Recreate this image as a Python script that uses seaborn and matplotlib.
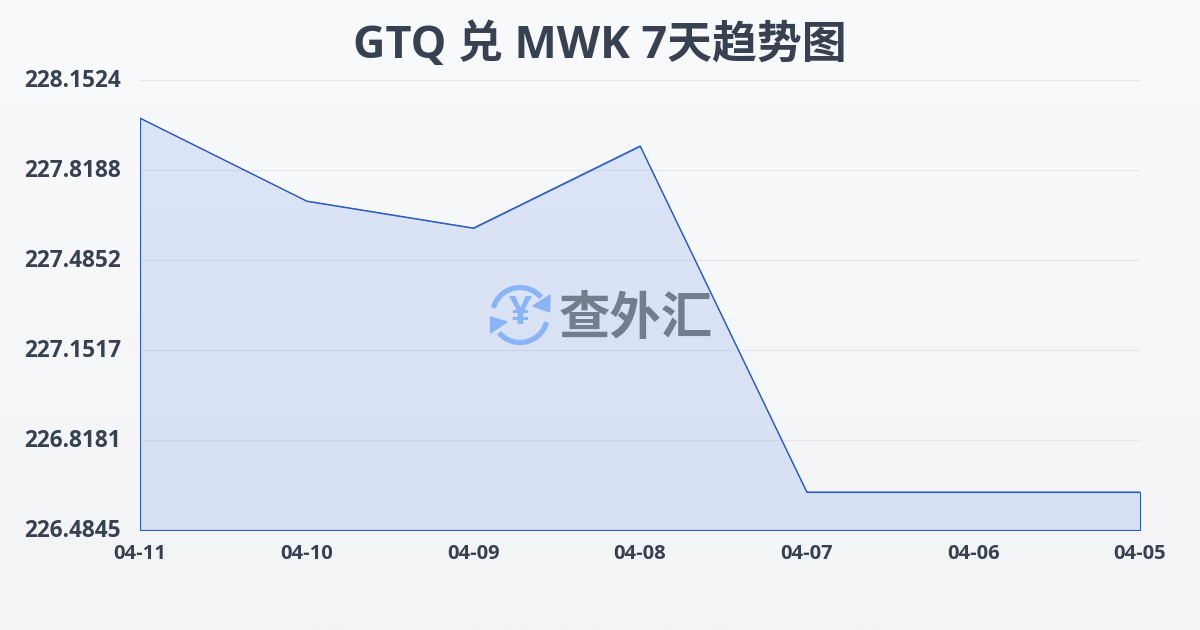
import numpy as np
import pandas as pd
import matplotlib.pyplot as plt
from matplotlib.patches import Arc, Polygon
from matplotlib.transforms import ScaledTranslation
import seaborn as sns

sns.set_style("white")
plt.rcParams['font.family'] = ['Open Sans', 'Noto Sans CJK SC', 'DejaVu Sans']

# values
dates = ['04-11', '04-10', '04-09', '04-08', '04-07', '04-06', '04-05']
rates = [228.0116, 227.7040, 227.6040, 227.9080, 226.6253, 226.6253, 226.6253]
y_ticks = [226.4845, 226.8181, 227.1517, 227.4852, 227.8188, 228.1524]
y_labels = ['226.4845', '226.8181', '227.1517', '227.4852', '227.8188', '228.1524']

TEXT = '#374151'
LINE = '#2a5cc4'
GRID = '#e5e7eb'

df = pd.DataFrame({'pos': range(len(dates)), 'rate': rates})

fig = plt.figure(figsize=(12, 6.3), dpi=100)

# background gradient
bg = fig.add_axes([0, 0, 1, 1], zorder=0)
grad = np.linspace(0, 1, 256).reshape(-1, 1, 1)
top = np.array([249, 250, 252]) / 255
bottom = np.array([243, 244, 246]) / 255
bg.imshow(top + (bottom - top) * grad, aspect='auto', extent=[0, 1, 0, 1])
bg.axis('off')

# plot area is x 140-1140, y 80-530 in pixels
ax = fig.add_axes([140 / 1200, 100 / 630, 1000 / 1200, 450 / 630], zorder=1)
ax.patch.set_alpha(0)

ax.fill_between(df['pos'], df['rate'], y_ticks[0],
                facecolor=(0.23, 0.42, 0.90, 0.15), edgecolor=LINE, linewidth=0.8, zorder=2)
sns.lineplot(data=df, x='pos', y='rate', color=LINE, linewidth=0.8, ax=ax, zorder=3)

ax.set_xlim(0, len(dates) - 1)
ax.set_ylim(y_ticks[0], y_ticks[-1])
ax.set_xticks(df['pos'])
ax.set_xticklabels(dates, fontsize=14.5, fontweight='bold', color=TEXT)
ax.set_yticks(y_ticks)
ax.set_yticklabels(y_labels, fontsize=16.3, fontweight='bold', color=TEXT)
ax.set_xlabel('')
ax.set_ylabel('')
ax.grid(axis='y', color=GRID, linewidth=0.8, zorder=1)
ax.set_axisbelow(True)
ax.tick_params(axis='x', length=7, width=1, color='#e8eaee', pad=3)
ax.tick_params(axis='y', length=0, pad=13.5)
# y labels sit a touch above their gridlines
up = ScaledTranslation(0, 1.5 / 72, fig.dpi_scale_trans)
for lab in ax.get_yticklabels():
    lab.set_transform(lab.get_transform() + up)
for s in ax.spines.values():
    s.set_visible(False)

fig.text(600 / 1200, 1 - 46 / 630, 'GTQ 兑 MWK 7天趋势图', ha='center', va='center',
         fontsize=32.3, fontweight='bold', color=TEXT, zorder=5)

# watermark, overlay in pixel coords
wm = fig.add_axes([0, 0, 1, 1], zorder=4)
wm.set_xlim(0, 1200)
wm.set_ylim(630, 0)
wm.axis('off')
wm.patch.set_alpha(0)
ICON = '#8ab4f8'
wm.add_patch(Arc((520, 315), 55, 55, theta1=195, theta2=320, color=ICON, linewidth=3.8))
wm.add_patch(Arc((520, 315), 55, 55, theta1=15, theta2=140, color=ICON, linewidth=3.8))
wm.add_patch(Polygon([(550, 295), (549.5, 312), (533, 306)], color=ICON))
wm.add_patch(Polygon([(490.5, 317), (490.5, 333), (507, 322)], color=ICON))
wm.text(520, 314, '¥', ha='center', va='center', fontsize=29, fontweight='bold', color=ICON)
wm.text(635.5, 321, '查外汇', ha='center', va='center', fontsize=37, fontweight='bold', color='#737d8e')

plt.savefig('out.png', dpi=100)
